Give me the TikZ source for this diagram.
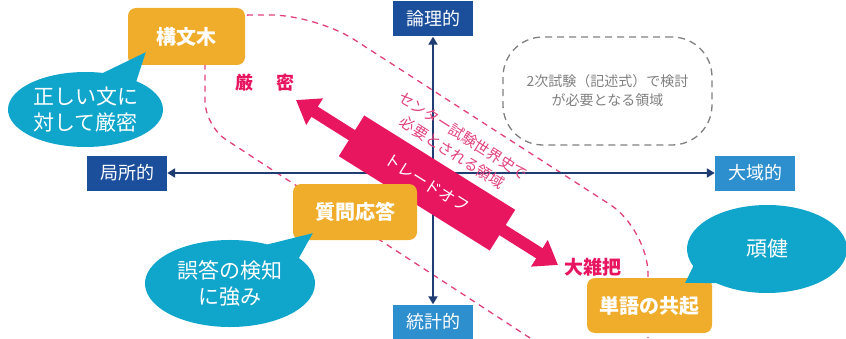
\documentclass[tikz,border=0pt]{standalone}
\usepackage{fontspec}
\setmainfont{Noto Sans CJK JP}
\usetikzlibrary{arrows.meta,shapes.callouts}
\definecolor{axisblue}{HTML}{1F3C73}
\definecolor{darkbox}{HTML}{1B4F9C}
\definecolor{lightbox}{HTML}{2E8FCE}
\definecolor{methodorange}{HTML}{F0AD2B}
\definecolor{bubblecyan}{HTML}{10A5CB}
\definecolor{trademagenta}{HTML}{E8155F}
\definecolor{regionpink}{HTML}{E0417C}
\definecolor{examgray}{HTML}{7F7F7F}

\begin{document}
\begin{tikzpicture}[x=1pt, y=1pt,
    axisbox/.style={rectangle, minimum width=80pt, minimum height=35pt, inner sep=0pt, text=white, font=\fontsize{18pt}{20pt}\selectfont},
    methodbox/.style={rectangle, rounded corners=8pt, fill=methodorange, text=white, inner sep=0pt, font=\bfseries\fontsize{20pt}{24pt}\selectfont},
    bubble/.style={ellipse callout, fill=bubblecyan, text=white, inner sep=0pt, callout pointer arc=28, align=center, font=\fontsize{21pt}{26pt}\selectfont},
    axis/.style={draw=axisblue, line width=2.5pt, {Triangle[length=8pt,width=9pt]}-{Triangle[length=8pt,width=9pt]}},
    region/.style={draw=regionpink, line width=1.3pt, dash pattern=on 6pt off 5pt},
    label/.style={text=trademagenta, font=\bfseries\fontsize{18pt}{20pt}\selectfont}]
        \useasboundingbox (0,0) rectangle (846,338);
        \clip (0,0) rectangle (846,338);
        % region needed for the centre exam
        \draw[region] (530,0) [rounded corners=25pt] -- (205,212) [rounded corners=45pt] -- (205,323) -- (316,323) -- (648,109) -- (648,0);
        % axes
        \node[axisbox, fill=darkbox] (logic) at (433,319) {論理的};
        \node[axisbox, fill=lightbox] (stat) at (433,16) {統計的};
        \node[axisbox, fill=darkbox] (local) at (127,165) {局所的};
        \node[axisbox, fill=lightbox] (global) at (755,165) {大域的};
        \draw[axis] (stat) -- (logic);
        \draw[axis] (local) -- (global);
        \node[draw=examgray, line width=1.3pt, dash pattern=on 7pt off 5pt, rounded corners=40pt, minimum width=209pt, minimum height=108pt, text=examgray, align=center, font=\fontsize{14pt}{19pt}\selectfont] (exam2) at (607.5,247) {2次試験（記述式）で検討\\が必要となる領域};
        % trade-off
        \coordinate (rigid) at (296,238);
        \coordinate (rough) at (558,73);
        \draw[trademagenta, line width=12pt, {Triangle[length=22pt,width=30pt]}-{Triangle[length=22pt,width=30pt]}] (rigid) -- (rough);
        \node[fill=trademagenta, rotate=-32, minimum width=178pt, minimum height=48pt, text=white, font=\fontsize{16pt}{18pt}\selectfont] (tradeoff) at (427,155) {トレードオフ};
        \node[text=regionpink, rotate=-32.5, align=center, font=\fontsize{15pt}{20pt}\selectfont] (centerexam) at (458,194) {センター試験世界史で\\必要とされる領域};
        \node[label] (rigidlabel) at (265,255) {厳\hspace{23pt}密};
        \node[label, font=\bfseries\fontsize{19pt}{21pt}\selectfont] (roughlabel) at (593,71) {大雑把};
        % methods
        \node[methodbox, minimum width=117pt, minimum height=57pt] (syntax) at (186.5,301.5) {構文木};
        \node[methodbox, minimum width=124pt, minimum height=56pt] (qa) at (355,126) {質問応答};
        \node[methodbox, minimum width=125pt, minimum height=55pt] (cooc) at (649.5,32.5) {単語の共起};
        \coordinate (syntaxtip) at ([xshift=18pt,yshift=13pt]syntax.south west);
        \coordinate (qatip) at ([xshift=20pt,yshift=7pt]qa.south west);
        \coordinate (cooctip) at ([xshift=-27pt,yshift=-5pt]cooc.north east);
        \node[bubble, minimum width=155pt, minimum height=75pt, callout absolute pointer={(syntaxtip)}] (strict) at (85.5,228.5) {正しい文に\\対して厳密};
        \node[bubble, minimum width=170pt, minimum height=87pt, callout absolute pointer={(qatip)}] (detect) at (230,54.5) {誤答の検知\\に強み};
        \node[bubble, minimum width=160pt, minimum height=88pt, callout absolute pointer={(cooctip)}] (robust) at (767,89) {頑健};
      \end{tikzpicture}
\end{document}
